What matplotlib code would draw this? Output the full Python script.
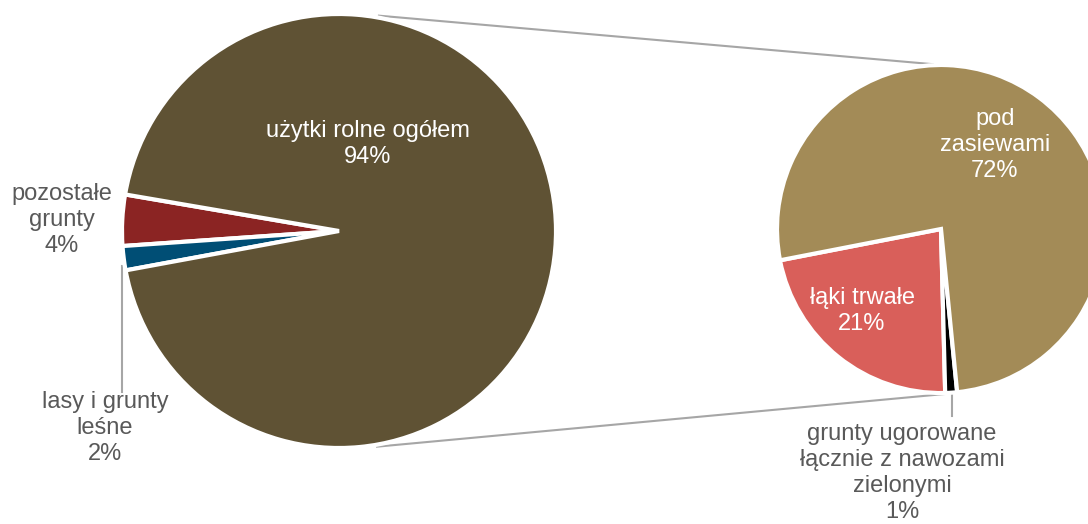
import numpy as np
import matplotlib
matplotlib.use("Agg")
import matplotlib.pyplot as plt

# ---- data ----
main_categories = ["pozostałe\ngrunty", "lasy i grunty\nleśne", "użytki rolne ogółem"]
main_values = [3.8, 1.8, 94.4]
main_colors = ["#8B2423", "#004E75", "#5F5234"]

sub_categories = ["łąki trwałe", "grunty ugorowane\nłącznie z nawozami\nzielonymi", "pod\nzasiewami"]
sub_values = [21.1, 1.1, 72.2]
sub_colors = ["#D95F5A", "#000000", "#A38B57"]

W, H = 1088, 524
plt.rcParams["font.family"] = ["Liberation Sans", "DejaVu Sans"]

fig = plt.figure(figsize=(W / 100, H / 100), dpi=100)
ax = fig.add_axes([0, 0, 1, 1])


def Y(y):
    return H - y


c1, r1 = (339, Y(231)), 217
c2, r2 = (941, Y(229)), 164

ax.pie(main_values, colors=main_colors, startangle=170.3, counterclock=True,
       center=c1, radius=r1,
       wedgeprops=dict(edgecolor="white", linewidth=3))
ax.pie(sub_values, colors=sub_colors, startangle=191, counterclock=True,
       center=c2, radius=r2, explode=[0.035, 0, 0],
       wedgeprops=dict(edgecolor="white", linewidth=3))

# connector lines between pies
def pt(c, r, ang):
    a = np.deg2rad(ang)
    return c[0] + r * np.cos(a), c[1] + r * np.sin(a)

for a1, a2 in [(79.5, 92.8), (280.0, 271.5)]:
    p1 = pt(c1, r1 + 2, a1)
    p2 = pt(c2, r2 + 1, a2)
    ax.plot([p1[0], p2[0]], [p1[1], p2[1]], color="#A6A6A6", lw=1.5, zorder=0)

# leader lines
ax.plot([122, 122], [Y(266), Y(392)], color="#A6A6A6", lw=1.5, zorder=0)
ax.plot([952, 952], [Y(395), Y(416)], color="#A6A6A6", lw=1.5, zorder=0)

total = sum(main_values)
fs = 17
gray = "#595959"
ls = 1.25

def lab(name, v):
    return f"{name}\n{round(v / total * 100):.0f}%"

ax.text(368, Y(144), lab(main_categories[2], main_values[2]), color="white",
        ha="center", va="center", fontsize=fs, linespacing=ls)
ax.text(62, Y(220), lab(main_categories[0], main_values[0]), color=gray,
        ha="center", va="center", fontsize=fs, linespacing=ls)
ax.text(105, Y(428), lab(main_categories[1], main_values[1]), color=gray,
        ha="center", va="center", fontsize=fs, linespacing=ls)

ax.text(995, Y(145), lab(sub_categories[2], sub_values[2]), color="white",
        ha="center", va="center", fontsize=fs, linespacing=ls)
ax.text(862, Y(311), lab(sub_categories[0], sub_values[0]), color="white",
        ha="center", va="center", fontsize=fs, linespacing=ls)
ax.text(902, Y(473), lab(sub_categories[1], sub_values[1]), color=gray,
        ha="center", va="center", fontsize=fs, linespacing=ls)

ax.set_xlim(0, W)
ax.set_ylim(0, H)
ax.set_aspect("equal")
ax.axis("off")

fig.savefig("out.png", dpi=100, facecolor="white")
